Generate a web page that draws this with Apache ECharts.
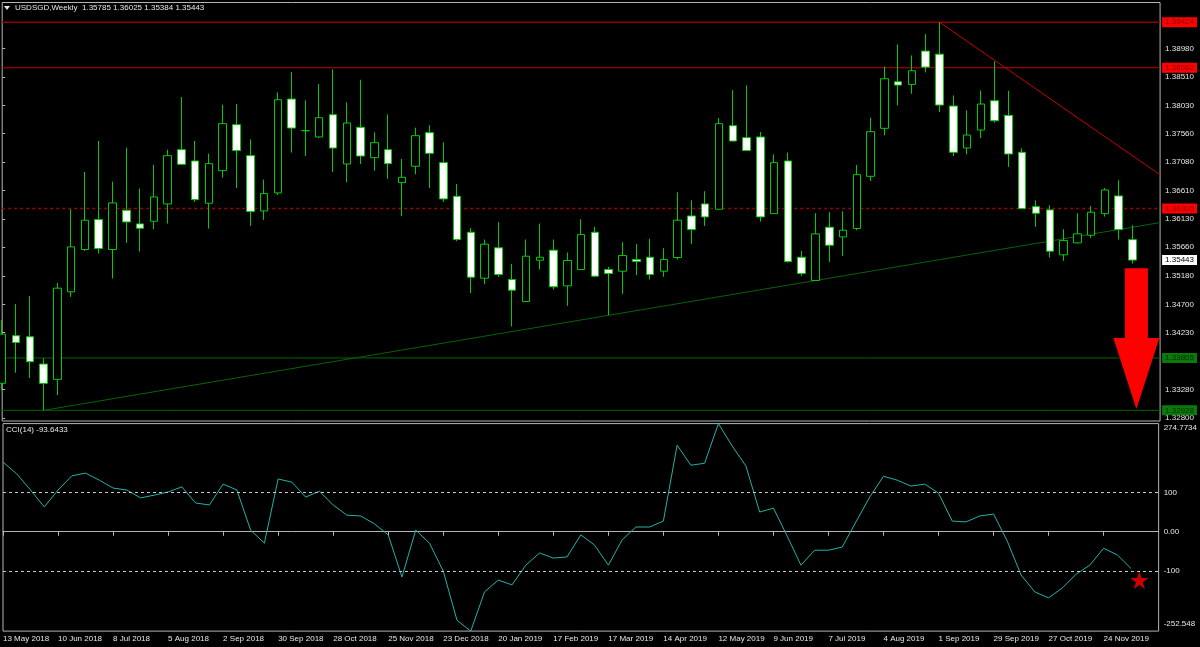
<!DOCTYPE html>
<html><head><meta charset="utf-8">
<script src="https://cdn.jsdelivr.net/npm/echarts@6/dist/echarts.min.js"></script>
<style>html,body{margin:0;padding:0;background:#000;}#c{width:1200px;height:647px;}</style>
</head><body><div id="c"></div>
<script>
const symbolName = 'USDSGD';
const timeframe = 'Weekly';
const weeks = ['13 May 2018','20 May 2018','27 May 2018','3 Jun 2018','10 Jun 2018','17 Jun 2018','24 Jun 2018','1 Jul 2018','8 Jul 2018','15 Jul 2018',
'22 Jul 2018','29 Jul 2018','5 Aug 2018','12 Aug 2018','19 Aug 2018','26 Aug 2018','2 Sep 2018','9 Sep 2018','16 Sep 2018','23 Sep 2018',
'30 Sep 2018','7 Oct 2018','14 Oct 2018','21 Oct 2018','28 Oct 2018','4 Nov 2018','11 Nov 2018','18 Nov 2018','25 Nov 2018','2 Dec 2018',
'9 Dec 2018','16 Dec 2018','23 Dec 2018','30 Dec 2018','6 Jan 2019','13 Jan 2019','20 Jan 2019','27 Jan 2019','3 Feb 2019','10 Feb 2019',
'17 Feb 2019','24 Feb 2019','3 Mar 2019','10 Mar 2019','17 Mar 2019','24 Mar 2019','31 Mar 2019','7 Apr 2019','14 Apr 2019','21 Apr 2019',
'28 Apr 2019','5 May 2019','12 May 2019','19 May 2019','26 May 2019','2 Jun 2019','9 Jun 2019','16 Jun 2019','23 Jun 2019','30 Jun 2019',
'7 Jul 2019','14 Jul 2019','21 Jul 2019','28 Jul 2019','4 Aug 2019','11 Aug 2019','18 Aug 2019','25 Aug 2019','1 Sep 2019','8 Sep 2019',
'15 Sep 2019','22 Sep 2019','29 Sep 2019','6 Oct 2019','13 Oct 2019','20 Oct 2019','27 Oct 2019','3 Nov 2019','10 Nov 2019','17 Nov 2019',
'24 Nov 2019','1 Dec 2019','8 Dec 2019','15 Dec 2019','22 Dec 2019'];

const opens = [1.33380,1.34177,1.34160,1.33703,1.33447,1.34912,1.35620,1.36121,1.35620,1.36277,
1.36049,1.36093,1.36383,1.37291,1.37102,1.36394,1.36940,1.37709,1.37191,1.36266,
1.36567,1.38138,1.37609,1.37503,1.37876,1.37052,1.37665,1.37158,1.37291,1.36740,
1.37013,1.37575,1.37074,1.36511,1.35909,1.35140,1.35648,1.35118,1.34750,1.35441,
1.35609,1.35012,1.35285,1.35909,1.35285,1.35257,1.35452,1.35491,1.35257,1.35486,
1.36182,1.36383,1.36294,1.37692,1.37492,1.37503,1.36221,1.37102,1.35491,1.35101,
1.35993,1.35831,1.35971,1.36845,1.37648,1.38428,1.38383,1.38941,1.38890,1.38021,
1.37319,1.37620,1.38110,1.37865,1.37247,1.36338,1.36283,1.35531,1.35731,1.35859,
1.36221,1.36517,1.35785];
const highs = [1.34438,1.34706,1.34840,1.33798,1.35062,1.36294,1.36918,1.37436,1.36756,1.37325,
1.36639,1.37035,1.37291,1.38172,1.37436,1.37224,1.38043,1.38055,1.37464,1.36790,
1.38250,1.38590,1.38116,1.38389,1.38634,1.38082,1.38461,1.37581,1.37882,1.37135,
1.37659,1.37698,1.37414,1.36717,1.35982,1.35787,1.36077,1.35380,1.35787,1.36054,
1.35787,1.35570,1.36127,1.35999,1.35330,1.35742,1.35709,1.35798,1.35642,1.36578,
1.36444,1.36595,1.37821,1.38289,1.38367,1.37587,1.37213,1.37241,1.35597,1.36227,
1.36244,1.36260,1.37035,1.37826,1.38684,1.39052,1.38868,1.39225,1.39424,1.38199,
1.37949,1.38283,1.38768,1.38277,1.37314,1.36444,1.36361,1.35960,1.36227,1.36350,
1.36650,1.36779,1.36025];
const lows = [1.33268,1.33558,1.33469,1.32928,1.33185,1.34828,1.35597,1.35553,1.35135,1.35731,
1.35586,1.35960,1.36054,1.37040,1.36416,1.35971,1.36823,1.36650,1.36015,1.36116,
1.36533,1.37241,1.37185,1.37486,1.36918,1.36745,1.37052,1.36940,1.36806,1.36177,
1.36879,1.36650,1.36416,1.35759,1.34890,1.35040,1.35163,1.34333,1.34740,1.35285,
1.34951,1.34678,1.35274,1.35163,1.34522,1.34879,1.35191,1.35118,1.35163,1.35452,
1.35714,1.36015,1.36285,1.37430,1.37270,1.36088,1.36215,1.35397,1.35179,1.35101,
1.35413,1.35514,1.35943,1.36767,1.37531,1.38032,1.38227,1.38584,1.37921,1.37185,
1.37213,1.37486,1.37743,1.37002,1.36300,1.35999,1.35486,1.35430,1.35725,1.35815,
1.36171,1.35787,1.35384];
const closes = [1.34204,1.34065,1.33742,1.33380,1.34973,1.35664,1.36110,1.35636,1.36400,1.36082,
1.35976,1.36500,1.37191,1.37046,1.36455,1.37057,1.37726,1.37275,1.36255,1.36556,
1.38127,1.37653,1.37609,1.37826,1.37319,1.37737,1.37185,1.37408,1.37057,1.36829,
1.37525,1.37230,1.36467,1.35787,1.35157,1.35709,1.35202,1.34940,1.35508,1.35491,
1.34996,1.35436,1.35870,1.35174,1.35218,1.35519,1.35419,1.35202,1.35452,1.36110,
1.35954,1.36166,1.37726,1.37436,1.37275,1.36166,1.37074,1.35419,1.35218,1.35882,
1.35692,1.35943,1.36873,1.37592,1.38478,1.38372,1.38612,1.38673,1.38038,1.37247,
1.37536,1.38055,1.37776,1.37219,1.36305,1.36227,1.35592,1.35770,1.35882,1.36244,
1.36617,1.35954,1.35443];

const cci = [177,147,106,63,106,142,149,131,111,106,
86,93,101,114,73,68,121,106,4,-29,
134,126,88,103,68,42,40,20,-8,-115,
4,-29,-100,-225,-252.548,-153,-123,-135,-85,-54,
-67,-64,-8,-34,-85,-21,12,12,27,220,
169,174,274.7734,218,167,50,60,-11,-85,-47,
-47,-39,25,88,141,131,116,121,98,27,
25,40,45,-24,-110,-153,-168,-143,-108,-85,
-42,-59,-93.6433];

const priceTicks = [1.32800,1.33280,1.33750,1.34230,1.34700,1.35180,1.35660,1.36130,1.36610,1.37080,1.37560,1.38030,1.38510,1.38980];
const resistanceLevels = [1.39424, 1.38662];
const pivotLevel = 1.36305;
const supportLevels = [1.33805, 1.32928];
const lastPrice = 1.35443;
const cciTicks = [274.7734, 100, 0, -100, -252.548];
const cciLevels = [100, -100];
const uptrend = [[3, 1.32928], [84, 1.36071]];
const downtrend = [[68, 1.39424], [84, 1.36870]];
const arrowMark = [[82.28, 1.35307, 1.34137, 1.32950]];
const starMark = [[82.6, -123]];

const FONT = 'Liberation Sans';
const TXT = '#e6e6e6';
const near = (a, b) => Math.abs(a - b) < 1e-7;
const n = weeks.length;
const lastIdx = opens.length - 1;

const chart = echarts.init(document.getElementById('c'), null, {renderer: 'canvas'});
const candleData = opens.map((o, i) => [o, closes[i], lows[i], highs[i]]);
const rs = (bg, fg) => ({color: fg, backgroundColor: bg, fontSize: 8, fontFamily: FONT, padding: [1, 3, 1, 3]});

function levelSeries(v, color, width, type) {
  return {type: 'line', xAxisIndex: 2, yAxisIndex: 0, data: [[0, v], [n - 1, v]], symbol: 'none', silent: true,
    lineStyle: {color: color, width: width, type: type}, z: 1};
}

chart.setOption({
  backgroundColor: '#000000',
  animation: false,
  grid: [
    {left: 2.2, right: 38.2, top: 2.5, height: 418.5, show: true, borderColor: '#b4b4b4', borderWidth: 1},
    {left: 2.2, right: 38.2, top: 423.6, height: 207.5, show: true, borderColor: '#b4b4b4', borderWidth: 1}
  ],
  xAxis: [
    {type: 'category', gridIndex: 0, data: weeks, boundaryGap: false, show: false},
    {type: 'category', gridIndex: 1, data: weeks, boundaryGap: false, position: 'bottom',
      axisLine: {show: true, lineStyle: {color: '#b4b4b4'}},
      axisTick: {show: true, length: 4, interval: (i) => i % 4 === 0 && i <= 80, lineStyle: {color: '#b4b4b4'}},
      axisLabel: {show: true, interval: (i) => i % 4 === 0 && i <= 80, align: 'left', margin: 4,
        color: TXT, fontSize: 8, fontFamily: FONT},
      splitLine: {show: false}},
    {type: 'value', gridIndex: 0, min: 0, max: n - 1, show: false},
    {type: 'value', gridIndex: 1, min: 0, max: n - 1, show: false}
  ],
  yAxis: [
    {type: 'value', gridIndex: 0, position: 'right', min: 1.3275, max: 1.39754, scale: true,
      splitLine: {show: false}, axisLine: {show: false},
      axisTick: {show: true, length: 3, customValues: priceTicks, lineStyle: {color: '#b4b4b4'}},
      axisLabel: {show: true, margin: 2,
        customValues: priceTicks.concat([lastPrice], resistanceLevels, [pivotLevel], supportLevels),
        formatter: (v) => {
          const t = v.toFixed(5);
          if (resistanceLevels.some(l => near(l, v)) || near(pivotLevel, v)) return '{red|' + t + '}';
          if (supportLevels.some(l => near(l, v))) return '{green|' + t + '}';
          if (near(lastPrice, v)) return '{white|' + t + '}';
          return '{plain|' + t + '}';
        },
        rich: {
          plain: {color: TXT, fontSize: 8, fontFamily: FONT, padding: [1, 3, 1, 3]},
          red: rs('#ff0000', '#800000'),
          green: rs('#0a7a0a', '#022a02'),
          white: rs('#ffffff', '#000000')
        }}},
    {type: 'value', gridIndex: 1, position: 'right', min: -252.548, max: 274.7734,
      splitLine: {show: false}, axisLine: {show: false},
      axisTick: {show: true, length: 3, customValues: [100, 0, -100], lineStyle: {color: '#b4b4b4'}},
      axisLabel: {show: true, margin: 2, customValues: cciTicks,
        formatter: (v) => {
          if (near(v, cciTicks[0])) return '{top|' + String(cciTicks[0]) + '}';
          if (near(v, cciTicks[cciTicks.length - 1])) return '{bot|' + String(cciTicks[cciTicks.length - 1]) + '}';
          if (v === 0) return '{plain|0.00}';
          return '{plain|' + String(v) + '}';
        },
        rich: {
          plain: {color: TXT, fontSize: 8, fontFamily: FONT, padding: [1, 3, 1, 3]},
          top: {color: TXT, fontSize: 8, fontFamily: FONT, padding: [9, 3, 1, 3]},
          bot: {color: TXT, fontSize: 8, fontFamily: FONT, padding: [1, 3, 15, 3]}
        }}}
  ],
  graphic: [
    {type: 'polygon', shape: {points: [[4, 6], [10, 6], [7, 10]]}, style: {fill: TXT}},
    {type: 'text', left: 15, top: 4, style: {
      text: symbolName + ',' + timeframe + '  ' + [opens[lastIdx], highs[lastIdx], lows[lastIdx], closes[lastIdx]].map(v => v.toFixed(5)).join(' '),
      fill: TXT, font: '8px "' + FONT + '"'}},
    {type: 'text', left: 6, top: 426, style: {
      text: 'CCI(14) ' + cci[cci.length - 1].toFixed(4), fill: TXT, font: '8px "' + FONT + '"'}}
  ],
  series: [
    levelSeries(resistanceLevels[0], '#8c0000', 1.5, 'solid'),
    levelSeries(resistanceLevels[1], '#c00000', 1, 'solid'),
    levelSeries(pivotLevel, '#a00000', 1.5, [3, 3]),
    levelSeries(supportLevels[0], '#006400', 1, 'solid'),
    levelSeries(supportLevels[1], '#006400', 1, 'solid'),
    {type: 'line', xAxisIndex: 2, yAxisIndex: 0, data: uptrend, symbol: 'none', silent: true, z: 1,
      lineStyle: {color: '#0a620a', width: 1}},
    {type: 'line', xAxisIndex: 2, yAxisIndex: 0, data: downtrend, symbol: 'none', silent: true, z: 1,
      lineStyle: {color: '#c80000', width: 1}},
    {type: 'candlestick', xAxisIndex: 0, yAxisIndex: 0, data: candleData, barWidth: 8, clip: false, z: 3,
      itemStyle: {color: '#000000', color0: '#ffffff', borderColor: '#00cc00', borderColor0: '#00cc00', borderColorDoji: '#00cc00', borderWidth: 1}},
    {type: 'custom', xAxisIndex: 2, yAxisIndex: 0, data: arrowMark, silent: true, z: 4,
      renderItem: (params, api) => {
        const top = api.coord([api.value(0), api.value(1)]);
        const base = api.coord([api.value(0), api.value(2)]);
        const tip = api.coord([api.value(0), api.value(3)]);
        const x = top[0], sw = 11.5, hw = 23;
        return {type: 'polygon', shape: {points: [[x - sw, top[1]], [x + sw, top[1]], [x + sw, base[1]], [x + hw, base[1]], [x, tip[1]], [x - hw, base[1]], [x - sw, base[1]]]},
          style: {fill: '#ff0000'}};
      }},
    {type: 'line', xAxisIndex: 1, yAxisIndex: 1, data: cci, symbol: 'none', silent: true,
      lineStyle: {color: '#20b2aa', width: 1},
      markLine: {silent: true, symbol: ['none', 'none'], label: {show: false}, animation: false,
        lineStyle: {color: '#c8c8c8', width: 1, type: [3, 3]},
        data: cciLevels.map(v => ({yAxis: v}))}},
    {type: 'scatter', xAxisIndex: 3, yAxisIndex: 1, data: starMark, silent: true,
      symbol: 'path://M50,0 L61.8,35.1 L98.5,35.1 L68.8,56.9 L80,91.8 L50,70.2 L20,91.8 L31.2,56.9 L1.5,35.1 L38.2,35.1 Z',
      symbolSize: 18, itemStyle: {color: '#ff0000'}}
  ]
});
</script>
</body></html>
